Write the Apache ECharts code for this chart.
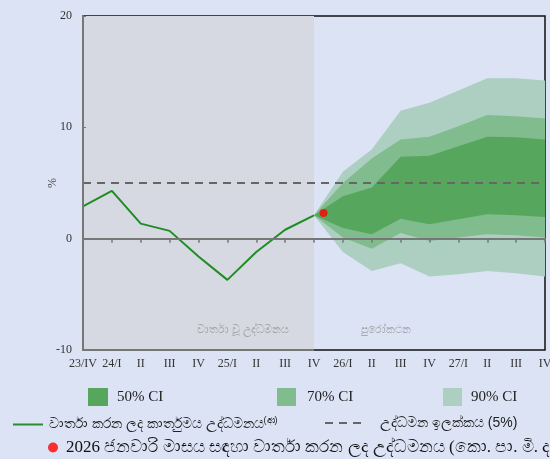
<!DOCTYPE html>
<html>
<head>
<meta charset="utf-8">
<script src="https://cdn.jsdelivr.net/npm/echarts@6/dist/echarts.min.js"></script>
<style>
html,body{margin:0;padding:0;background:#dbe3f4;}
#c{width:550px;height:459px;}
</style>
</head>
<body>
<div id="c"></div>
<script>
// ---- data ----
var xLabels = ['23/IV','24/I','II','III','IV','25/I','II','III','IV','26/I','II','III','IV','27/I','II','III','IV'];
var actualX = [0,1,2,3,4,5,6,7,8];
var actualY = [2.9, 4.3, 1.35, 0.7, -1.6, -3.7, -1.2, 0.8, 2.1];
var fanX  = [8, 9, 10, 11, 12, 13, 14, 15, 16];
var lo90  = [2.1, -1.2, -2.9, -2.2, -3.4, -3.2, -2.9, -3.1, -3.4];
var lo70  = [2.1, 0.1, -0.9, 0.5, -0.2, 0.1, 0.4, 0.3, 0.1];
var lo50  = [2.1, 0.95, 0.4, 1.8, 1.3, 1.75, 2.2, 2.1, 1.95];
var hi50  = [2.1, 3.8, 4.6, 7.35, 7.45, 8.3, 9.15, 9.1, 8.9];
var hi70  = [2.1, 5.0, 7.2, 8.9, 9.15, 10.1, 11.1, 11.0, 10.8];
var hi90  = [2.1, 6.0, 8.0, 11.5, 12.2, 13.3, 14.4, 14.4, 14.2];
var target = 5;
var janPoint = [8.33, 2.3];
var historyRange = [0, 8];
var noteTexts = ['වාර්තා වූ උද්ධමනය', 'පුරෝකථන'];
var noteX = [5.55, 10.5];
var noteY = [-8.2, -8.2];

var nameActual = 'වාර්තා කරන ලද කාර්තුමය උද්ධමනය';
var nameTarget = 'උද්ධමන ඉලක්කය (5%)';
var nameJan = '2026 ජනවාරි මාසය සඳහා වාර්තා කරන ලද උද්ධමනය (කො. පා. මි. ද.)';

var C50 = '#57a65e', C70 = '#80bc8d', C90 = '#adcfc1';
var serif = '"Liberation Serif","Times New Roman",serif';

function pairs(xs, ys){ return xs.map(function(x,i){ return [x, ys[i]]; }); }

function band(name, lo, hi, color, z){
  var data = fanX.map(function(x,i){ return [x, lo[i], hi[i]]; });
  return {
    name: name, type: 'custom', data: data, silent: true, z: z,
    itemStyle: {color: color},
    encode: {x: 0, y: [1, 2]},
    renderItem: function(params, api){
      if (params.dataIndex !== 0) return null;
      var pts = [], i;
      for (i = 0; i < data.length; i++) pts.push(api.coord([data[i][0], data[i][2]]));
      for (i = data.length - 1; i >= 0; i--) pts.push(api.coord([data[i][0], data[i][1]]));
      return {type: 'polygon', shape: {points: pts}, style: {fill: color, stroke: null}};
    }
  };
}

var chart = echarts.init(document.getElementById('c'), null, {renderer: 'canvas'});
chart.setOption({
  animation: false,
  backgroundColor: '#dbe3f4',
  grid: {left: 83, right: 5, top: 16, bottom: 109, outerBoundsMode: 'none', containLabel: false,
    show: true, borderColor: '#111', borderWidth: 1.5, backgroundColor: 'transparent'},
  xAxis: [{
    type: 'value', min: 0, max: 16, interval: 1, position: 'bottom',
    axisLine: {show: false, onZero: false}, axisTick: {show: false}, splitLine: {show: false},
    axisLabel: {formatter: function(v){ return xLabels[v] || ''; }, fontFamily: serif, fontSize: 12, color: '#333', margin: 8, showMinLabel: true, showMaxLabel: true}
  },{
    type: 'value', min: 0, max: 16, interval: 1, position: 'bottom', z: 10,
    axisLine: {show: true, onZero: true, lineStyle: {color: '#777', width: 2}},
    axisTick: {show: true, inside: false, length: 4, lineStyle: {color: '#777', width: 1.5}},
    axisLabel: {show: false}, splitLine: {show: false}
  }],
  yAxis: [{
    type: 'value', min: -10, max: 20, interval: 10, z: 10,
    name: '%', nameLocation: 'middle', nameGap: 24, nameRotate: 90, nameMoveOverlap: false,
    nameTextStyle: {fontFamily: serif, fontSize: 12, color: '#444'},
    axisLine: {show: true, lineStyle: {color: '#777', width: 2}},
    axisTick: {show: true, inside: true, length: 3, lineStyle: {color: '#777'}},
    splitLine: {show: false},
    axisLabel: {fontFamily: serif, fontSize: 12, color: '#333', margin: 11}
  }],
  legend: [
    {data: ['50% CI'], left: 83, top: 383, itemWidth: 20, itemHeight: 18, icon: 'rect', textStyle: {fontFamily: serif, fontSize: 15, color: '#222', padding: [0,0,0,4]}},
    {data: ['70% CI'], left: 272, top: 383, itemWidth: 19, itemHeight: 18, icon: 'rect', textStyle: {fontFamily: serif, fontSize: 15, color: '#222', padding: [0,0,0,6]}},
    {data: ['90% CI'], left: 438, top: 383, itemWidth: 19, itemHeight: 18, icon: 'rect', textStyle: {fontFamily: serif, fontSize: 15, color: '#222', padding: [0,0,0,4]}},
    {data: [nameActual], left: 8, top: 411, itemWidth: 30, itemHeight: 2,
      icon: 'path://M0,0h30v2h-30z',
      formatter: function(n){ return '{a|' + n + '}{s|(ආ)}'; },
      textStyle: {color: '#222', fontSize: 14, padding: [0,0,0,1],
        rich: {a: {fontSize: 14, color: '#222'}, s: {fontSize: 9, color: '#222', verticalAlign: 'top', padding: [0,0,8,0]}}}},
    {data: [nameTarget], left: 320, top: 411, itemWidth: 36, itemHeight: 2,
      icon: 'path://M0,0h8v2h-8z M14,0h8v2h-8z M28,0h8v2h-8z',
      textStyle: {color: '#222', fontSize: 14, padding: [0,0,0,14]}},
    {data: [nameJan], left: 43, top: 434, itemWidth: 10, itemHeight: 10, icon: 'circle',
      textStyle: {color: '#111', fontSize: 17, fontFamily: serif, padding: [0,0,0,3]}}
  ],
  series: [
    band('90% CI', lo90, hi90, C90, 2),
    band('70% CI', lo70, hi70, C70, 3),
    band('50% CI', lo50, hi50, C50, 4),
    {
      name: nameActual, type: 'line', data: pairs(actualX, actualY), symbol: 'none',
      lineStyle: {color: '#1f8c24', width: 2}, itemStyle: {color: '#2a8f30'}, z: 6,
      markArea: {silent: true, itemStyle: {color: '#d6d9e2'}, data: [[{xAxis: historyRange[0]}, {xAxis: historyRange[1]}]]},
      markLine: {silent: true, symbol: 'none', label: {show: false}, lineStyle: {color: '#777', width: 2, type: 'solid'},
        data: [[{coord: [historyRange[0], -10]}, {coord: [historyRange[1], -10]}]]}
    },
    {
      name: nameTarget, type: 'line', data: [[0, target], [16, target]], symbol: 'none',
      lineStyle: {color: '#666', width: 2, type: [8, 6]}, itemStyle: {color: '#666'}, z: 7
    },
    {
      name: nameJan, type: 'scatter', data: [janPoint], symbol: 'circle', symbolSize: 8,
      itemStyle: {color: '#ff0000'}, z: 8
    },
    {
      name: 'notes', type: 'scatter', symbolSize: 0, silent: true, z: 3,
      data: noteX.map(function(x,i){ return {value: [x, noteY[i]], label: {show: true, formatter: noteTexts[i], position: 'inside', color: '#999', fontSize: 11}}; })
    }
  ]
});
</script>
</body>
</html>
